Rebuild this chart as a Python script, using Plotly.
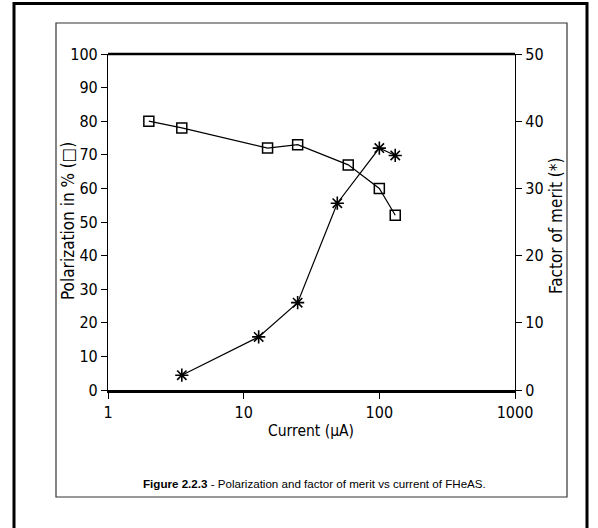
import plotly.graph_objects as go

# Data
pol_current = [2, 3.5, 15, 25, 59, 100, 131]
pol_values = [80, 78, 72, 73, 67, 60, 52]

fom_current = [3.5, 12.9, 25, 49, 100, 131]
fom_values = [2.2, 7.9, 13, 27.8, 36, 34.9]

x_ticks = [1, 10, 100, 1000]
x_ticktext = ["1", "10", "100", "1000"]
left_ticks = [0, 10, 20, 30, 40, 50, 60, 70, 80, 90, 100]
right_ticks = [0, 10, 20, 30, 40, 50]

W, H = 598, 528
# plot area in page pixels
L, R, T, B = 108, 515, 54, 390

def px(x):
    return (x - L) / (R - L)

def py(y):
    return (B - y) / (B - T)

tick_font = dict(family="Liberation Sans Narrow, DejaVu Sans Condensed, Arial Narrow", size=16, color="black")
vtitle_font = dict(family="DejaVu Sans Condensed, DejaVu Sans", size=17, color="black")
xtitle_font = dict(family="DejaVu Sans Condensed, DejaVu Sans", size=15.5, color="black")

fig = go.Figure()
fig.add_trace(go.Scatter(
    x=pol_current, y=pol_values, mode="lines+markers",
    line=dict(color="black", width=1.2),
    marker=dict(symbol="square-open", size=10, color="black", line=dict(width=1.5)),
    yaxis="y", showlegend=False))
fig.add_trace(go.Scatter(
    x=fom_current, y=fom_values, mode="lines+markers",
    line=dict(color="black", width=1.2),
    marker=dict(symbol="asterisk-open", size=11, color="black", line=dict(width=1.6)),
    yaxis="y2", showlegend=False))

axis_common = dict(showgrid=False, zeroline=False, showline=True, linecolor="black",
                   ticks="outside", ticklen=6, tickwidth=1, tickcolor="black",
                   tickfont=tick_font, automargin=False)

def ann(x, y, text, font, angle=0):
    return dict(xref="paper", yref="paper", x=px(x), y=py(y), showarrow=False,
                xanchor="center", yanchor="middle", textangle=angle, text=text, font=font)

fig.update_layout(
    width=W, height=H,
    margin=dict(l=L, r=W - R, t=T, b=H - B),
    paper_bgcolor="white", plot_bgcolor="white",
    xaxis=dict(type="log", range=[0, 3], tickvals=x_ticks, ticktext=x_ticktext,
               linewidth=2.5, **axis_common),
    yaxis=dict(range=[0, 100], tickvals=left_ticks, linewidth=1.2, **axis_common),
    yaxis2=dict(range=[0, 50], tickvals=right_ticks, overlaying="y", side="right",
                linewidth=1.2, **axis_common),
    shapes=[
        # top border of plot
        dict(type="line", xref="paper", yref="paper", x0=0, x1=1, y0=1, y1=1,
             line=dict(color="black", width=2.5)),
        # inner frame
        dict(type="rect", xref="paper", yref="paper", x0=px(56), x1=px(567), y0=py(497), y1=py(23),
             line=dict(color="#333", width=1.2)),
        # outer frame
        dict(type="rect", xref="paper", yref="paper", x0=px(14), x1=px(587), y0=py(545), y1=py(3.5),
             line=dict(color="black", width=3)),
    ],
    annotations=[
        ann(68, 221, "Polarization in % (□)", vtitle_font, -90),
        ann(556, 226, "Factor of merit (*)", vtitle_font, -90),
        ann(311, 431, "Current (µA)", xtitle_font),
        ann(314, 484, "<b>Figure 2.2.3</b> - Polarization and factor of merit vs current of FHeAS.",
            dict(family="Liberation Sans, Arial", size=11.6, color="black")),
    ],
)

fig.write_html("out.html", config={"displayModeBar": False},
               post_script="document.body.style.margin='0';")
